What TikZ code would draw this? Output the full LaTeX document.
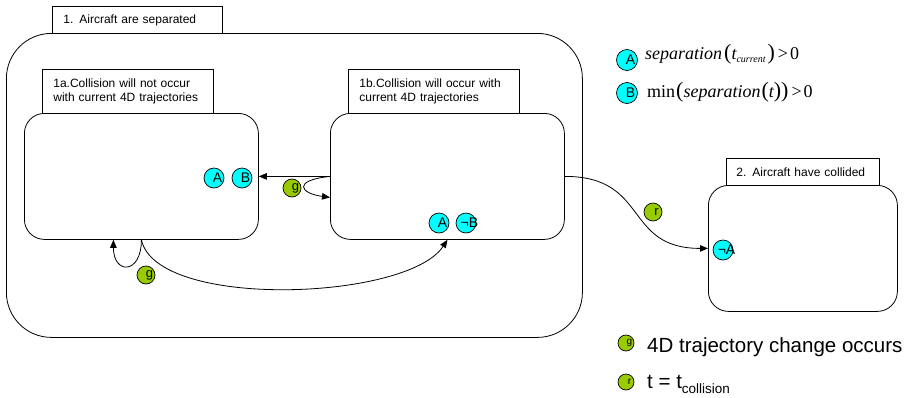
\documentclass[tikz,border=0pt]{standalone}
\usepackage{fontspec}
\setmainfont{Liberation Serif}
\setsansfont{Liberation Sans}
\usetikzlibrary{arrows.meta}
\definecolor{stcyan}{RGB}{0,255,255}
\definecolor{stgreen}{RGB}{153,204,0}
\newcommand\shiftlbl[1]{\makebox[0pt]{\hspace*{7pt}\raisebox{-2.5pt}{#1}}}
\newcommand\bigpar[1]{{\upshape\fontsize{22}{22}\selectfont #1}}
\tikzset{
  statebox/.style={draw, line width=0.8pt, rounded corners=20pt, anchor=north west, inner sep=0pt},
  labelbox/.style={draw, line width=0.8pt, anchor=north west, inner xsep=11pt, inner ysep=0pt,
    align=left, font=\sffamily\fontsize{12}{14}\selectfont},
  condc/.style={circle, draw, line width=0.7pt, fill=stcyan, minimum size=20pt, inner sep=0pt,
    font=\sffamily\fontsize{14}{14}\selectfont},
  evtc/.style={circle, draw, line width=0.7pt, fill=stgreen, minimum size=18pt, inner sep=0pt,
    font=\sffamily\fontsize{13}{13}\selectfont},
  legevt/.style={evtc, minimum size=16pt, font=\sffamily\fontsize{10}{10}\selectfont},
  conn/.style={line width=0.8pt, -{Triangle[length=8pt,width=6.5pt]}},
}
\begin{document}
\begin{tikzpicture}[x=1pt,y=-1pt]
\useasboundingbox (0,0) rectangle (916,397);
% outer state 1
\node[statebox, rounded corners=45pt, minimum width=576pt, minimum height=304pt] (s1) at (6,33) {};
\node[labelbox, text width=148pt, minimum height=27pt] (s1lbl) at (52,6) {1. Aircraft are separated};
% state 1a
\node[statebox, minimum width=234pt, minimum height=126pt] (a1) at (24,113) {};
\node[labelbox, text width=149pt, minimum height=44pt] (a1lbl) at (42,69) {1a.Collision will not occur\\with current 4D trajectories};
% state 1b
\node[statebox, minimum width=234pt, minimum height=126pt] (b1) at (330,113) {};
\node[labelbox, text width=149pt, minimum height=44pt] (b1lbl) at (348,69) {1b.Collision will occur with\\current 4D trajectories};
% state 2
\node[statebox, minimum width=189pt, minimum height=126pt] (s2) at (708,185) {};
\node[labelbox, inner xsep=10pt, text width=133pt, minimum height=27pt] (s2lbl) at (726,158) {2. Aircraft have collided};
% connectors
\draw[conn] (b1.west) -- (a1.east);
\draw[conn] (b1.west) .. controls +(-38,4) and +(-30,-4) .. ([yshift=-21pt]b1.west);
\draw[conn] (a1.south) .. controls +(0,35) and +(0,35) .. ([xshift=-28pt]a1.south);
\draw[conn] (a1.south) .. controls +(15,70) and +(-40,61) .. (b1.south);
\draw[conn] (b1.east) .. controls +(85,0) and +(-85,0) .. (s2.west);
% condition markers
\node[condc] (a1A) at (214,178) {\shiftlbl{A}};
\node[condc] (a1B) at (242,178) {\shiftlbl{B}};
\node[condc] (b1A) at (439,223) {\shiftlbl{A}};
\node[condc] (b1nB) at (466,223) {\shiftlbl{¬B}};
\node[condc] (s2nA) at (723,250) {\shiftlbl{¬A}};
% event markers
\node[evtc] (g1) at (292,188) {\shiftlbl{g}};
\node[evtc] (g2) at (146,275) {\shiftlbl{g}};
\node[evtc] (r1) at (653,212) {\shiftlbl{r}};
% legend top
\node[condc, minimum size=21pt] (legA) at (627,60) {\shiftlbl{A}};
\node[anchor=base west, inner sep=0pt, font=\fontsize{18}{18}\selectfont] (legAtxt) at (645,59)
  {\itshape separation\kern2pt\bigpar{(}t\raisebox{-3pt}{\fontsize{10}{10}\selectfont current}\kern2pt\bigpar{)}\kern3pt{\upshape >\kern2pt0}};
\node[condc, minimum size=21pt] (legB) at (627,93) {\shiftlbl{B}};
\node[anchor=base west, inner sep=0pt, font=\fontsize{18}{18}\selectfont] (legBtxt) at (647,97)
  {min\kern1pt\bigpar{(}\itshape separation\kern1pt\bigpar{(}t\bigpar{)}\bigpar{)}\kern3pt{\upshape >\kern2pt0}};
% legend bottom
\node[legevt] (legg) at (626,343) {\shiftlbl{g}};
\node[anchor=base west, inner sep=0pt, font=\sffamily\fontsize{20.5}{20.5}\selectfont] (leggtxt) at (647,352) {4D trajectory change occurs};
\node[legevt] (legr) at (626,382) {\shiftlbl{r}};
\node[anchor=base west, inner sep=0pt, font=\sffamily\fontsize{20.5}{20.5}\selectfont] (legrtxt) at (647,388) {t = t\raisebox{-5pt}{\fontsize{13.5}{13.5}\selectfont collision}};
\end{tikzpicture}
\end{document}
